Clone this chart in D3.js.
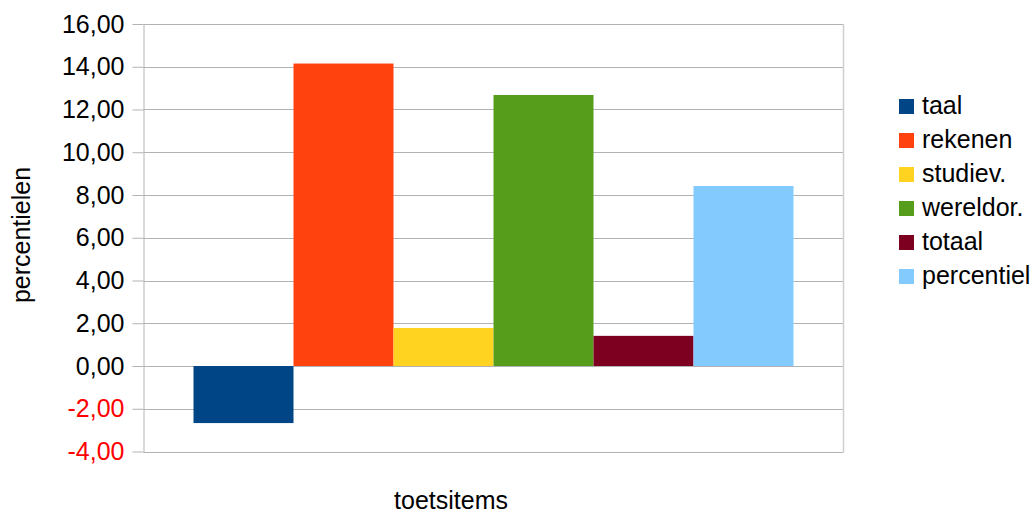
<!DOCTYPE html>
<html>
<head>
<meta charset="utf-8">
<script src="https://cdn.jsdelivr.net/npm/d3@7/dist/d3.min.js"></script>
<style>
  html, body { margin: 0; padding: 0; background: #ffffff; }
  svg { display: block; font-family: "Liberation Sans", Arial, sans-serif; }
</style>
</head>
<body>
<svg id="chart" width="1036" height="513"></svg>
<script>
// Score differences per test item
const categories = [""];
const series = ["taal", "rekenen", "studiev.", "wereldor.", "totaal", "percentiel"];
const values = [-2.67, 14.15, 1.78, 12.68, 1.41, 8.42];
const colors = ["#004586", "#ff420e", "#ffd320", "#579d1c", "#7e0021", "#83caff"];
const yTicks = [-4, -2, 0, 2, 4, 6, 8, 10, 12, 14, 16];
const xTitle = "toetsitems";
const yTitle = "percentielen";

const svg = d3.select("#chart");
const plot = { left: 143.5, right: 843.5, top: 24, bottom: 451.5 };
const fontSize = 25;

const y = d3.scaleLinear().domain([-4, 16]).range([plot.bottom, plot.top]);
const x0 = d3.scaleBand().domain(categories)
  .range([plot.left, plot.right]).paddingInner(0).paddingOuter(1 / 12);
const x1 = d3.scaleBand().domain(series).range([0, x0.bandwidth()]).padding(0);

// decimal comma, plain hyphen for negatives
const fmt = v => (v < 0 ? "-" : "") + d3.format(".2f")(Math.abs(v)).replace(".", ",");

// horizontal grid lines
svg.append("g")
  .selectAll("line")
  .data(yTicks)
  .join("line")
  .attr("x1", plot.left).attr("x2", plot.right)
  .attr("y1", d => Math.round(y(d)) + 0.5).attr("y2", d => Math.round(y(d)) + 0.5)
  .attr("stroke", "#b3b3b3").attr("stroke-width", 1);

// right wall edge
svg.append("line")
  .attr("x1", plot.right).attr("x2", plot.right)
  .attr("y1", plot.top).attr("y2", plot.bottom + 0.5)
  .attr("stroke", "#cfcfcf").attr("stroke-width", 1.5);

// bars
svg.append("g")
  .selectAll("g")
  .data(categories)
  .join("g")
  .attr("transform", d => `translate(${x0(d)},0)`)
  .selectAll("rect")
  .data(() => series.map((s, i) => ({ s, v: values[i], c: colors[i] })))
  .join("rect")
  .attr("x", d => x1(d.s))
  .attr("width", x1.bandwidth())
  .attr("y", d => y(Math.max(0, d.v)))
  .attr("height", d => Math.abs(y(d.v) - y(0)))
  .attr("fill", d => d.c);

// y axis
const yAxis = d3.axisLeft(y).tickValues(yTicks).tickFormat(fmt)
  .tickSizeOuter(0).tickSizeInner(11).tickPadding(8);
const ya = svg.append("g")
  .attr("transform", `translate(${plot.left},0)`)
  .call(yAxis);
ya.select(".domain").attr("stroke", "#b3b3b3");
ya.selectAll(".tick line").attr("stroke", "#b3b3b3");
ya.selectAll(".tick text")
  .attr("font-size", fontSize)
  .attr("font-family", "Liberation Sans, Arial, sans-serif")
  .attr("fill", d => d < 0 ? "#ff0000" : "#000000");

// axis titles
svg.append("text")
  .attr("x", 451).attr("y", 509)
  .attr("text-anchor", "middle")
  .attr("font-size", fontSize)
  .text(xTitle);

svg.append("text")
  .attr("transform", "translate(30,235) rotate(-90)")
  .attr("text-anchor", "middle")
  .attr("font-size", fontSize)
  .text(yTitle);

// legend
const legend = svg.append("g")
  .selectAll("g")
  .data(series)
  .join("g")
  .attr("transform", (d, i) => `translate(899,${114 + i * 34})`);
legend.append("rect")
  .attr("x", 0).attr("y", -15)
  .attr("width", 15).attr("height", 15)
  .attr("fill", (d, i) => colors[i]);
legend.append("text")
  .attr("x", 23).attr("y", 0)
  .attr("font-size", fontSize)
  .text(d => d);
</script>
</body>
</html>
